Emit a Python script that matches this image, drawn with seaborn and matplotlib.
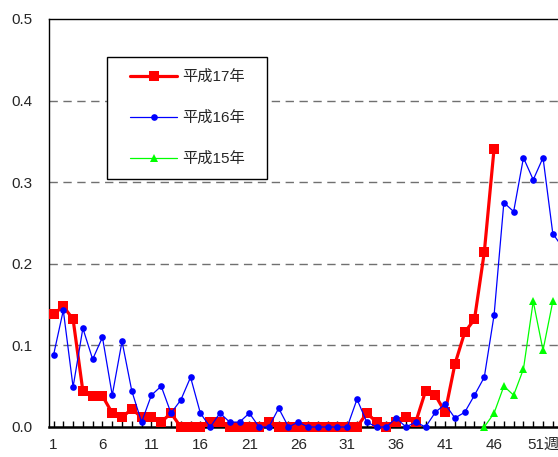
import numpy as np
import pandas as pd
import matplotlib
matplotlib.use("Agg")
import matplotlib.pyplot as plt
import seaborn as sns
from matplotlib.patches import Rectangle
from matplotlib.ticker import MultipleLocator, FixedLocator

# weekly values
weeks_h17 = list(range(1, 47))
vals_h17 = [0.138, 0.148, 0.132, 0.044, 0.038, 0.038, 0.017, 0.012, 0.022, 0.012,
            0.012, 0.006, 0.017, 0.0, 0.0, 0.0, 0.006, 0.006, 0.0, 0.0,
            0.0, 0.0, 0.006, 0.0, 0.0, 0.0, 0.0, 0.0, 0.0, 0.0,
            0.0, 0.0, 0.017, 0.006, 0.0, 0.006, 0.012, 0.006, 0.044, 0.039,
            0.018, 0.077, 0.116, 0.132, 0.214, 0.341]

weeks_h16 = list(range(1, 54))
vals_h16 = [0.088, 0.143, 0.049, 0.121, 0.083, 0.110, 0.039, 0.105, 0.044, 0.006,
            0.039, 0.050, 0.017, 0.033, 0.061, 0.017, 0.0, 0.017, 0.006, 0.006,
            0.017, 0.0, 0.0, 0.023, 0.0, 0.006, 0.0, 0.0, 0.0, 0.0,
            0.0, 0.034, 0.006, 0.0, 0.0, 0.011, 0.0, 0.006, 0.0, 0.018,
            0.028, 0.011, 0.018, 0.039, 0.061, 0.137, 0.275, 0.264, 0.330, 0.303,
            0.330, 0.237, 0.220]

weeks_h15 = list(range(45, 53))
vals_h15 = [0.0, 0.017, 0.050, 0.039, 0.071, 0.154, 0.094, 0.154]

labels = ["平成17年", "平成16年", "平成15年"]
xtick_pos = [1, 6, 11, 16, 21, 26, 31, 36, 41, 46, 51]
xtick_lab = ["1", "6", "11", "16", "21", "26", "31", "36", "41", "46", "51週"]

sns.set_style("white")
plt.rcParams["font.family"] = ["Liberation Sans", "Noto Sans CJK JP", "DejaVu Sans"]

W, H = 558, 457
fig = plt.figure(figsize=(W / 100, H / 100), dpi=100)
ax = fig.add_axes([49 / W, 1 - 427 / H, 1.0 - 49 / W, (427 - 19) / H])

df17 = pd.DataFrame({"week": weeks_h17, "value": vals_h17})
df16 = pd.DataFrame({"week": weeks_h16, "value": vals_h16})
df15 = pd.DataFrame({"week": weeks_h15, "value": vals_h15})

sns.lineplot(data=df17, x="week", y="value", ax=ax, color="#ff0000", linewidth=2.3,
             marker="s", markersize=6.5, markeredgecolor="#ff0000", markeredgewidth=0,
             label=labels[0], clip_on=False, zorder=3)
sns.lineplot(data=df16, x="week", y="value", ax=ax, color="#0000ff", linewidth=0.9,
             marker="o", markersize=4.8, markeredgecolor="#0000ff", markeredgewidth=0,
             label=labels[1], clip_on=False, zorder=4)
sns.lineplot(data=df15, x="week", y="value", ax=ax, color="#00ff00", linewidth=0.9,
             marker="^", markersize=5.5, markeredgecolor="#00ff00", markeredgewidth=0,
             label=labels[2], clip_on=False, zorder=4)

ax.set_xlim(0.54, 52.53)
ax.set_ylim(0, 0.5)
ax.xaxis.set_major_locator(FixedLocator(xtick_pos))
ax.set_xticklabels(xtick_lab)
ax.xaxis.set_minor_locator(MultipleLocator(1))
ax.yaxis.set_major_locator(MultipleLocator(0.1))
ax.yaxis.set_major_formatter(matplotlib.ticker.FormatStrFormatter("%.1f"))
ax.set_xlabel("")
ax.set_ylabel("")

for y in [0.1, 0.2, 0.3, 0.4]:
    ax.axhline(y, color="#707070", linewidth=1.0, linestyle=(0, (6, 4)), zorder=1)

ax.tick_params(axis="x", which="both", direction="in", length=4, width=1,
               color="black", labelsize=11, pad=8, top=False, bottom=True)
ax.tick_params(axis="y", which="major", direction="in", length=0,
               labelsize=11, pad=12)

ax.spines["right"].set_visible(False)
ax.spines["left"].set_linewidth(1.0)
ax.spines["top"].set_linewidth(1.0)
ax.spines["bottom"].set_linewidth(1.8)
for s in ["left", "top", "bottom"]:
    ax.spines[s].set_color("black")

# legend box drawn as a plain rectangle, legend entries placed inside it
box = Rectangle((107 / W, 1 - 179 / H), (267 - 107) / W, (179 - 57) / H,
                transform=fig.transFigure, facecolor="white", edgecolor="black",
                linewidth=1.0, zorder=9, clip_on=False)
ax.add_patch(box)

leg = ax.legend(loc="upper left", bbox_to_anchor=(130 / W, 1 - 70 / H),
                bbox_transform=fig.transFigure, frameon=False, fontsize=11,
                handlelength=3.1, handletextpad=0.3, labelspacing=1.75,
                borderpad=0, borderaxespad=0)
leg.set_zorder(10)

fig.savefig("out.png", dpi=100)
